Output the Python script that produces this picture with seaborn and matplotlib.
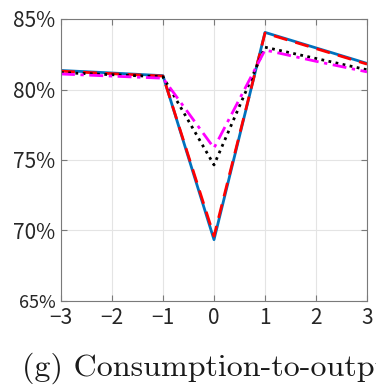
import numpy as np
import pandas as pd
import matplotlib
matplotlib.use("Agg")
import matplotlib.pyplot as plt
import seaborn as sns
from matplotlib.ticker import FuncFormatter

# Horizon (quarters around the shock)
horizon = [-3, -2, -1, 0, 1, 2, 3]

# Consumption-to-output ratio (%) under four specifications
series_a = [81.35, 81.17, 80.98, 69.35, 84.05, 82.95, 81.85]   # solid blue
series_b = [81.30, 81.12, 80.95, 69.60, 84.00, 82.90, 81.80]   # dashed red
series_c = [81.20, 81.05, 80.90, 74.65, 83.00, 82.20, 81.40]   # dotted black
series_d = [81.10, 80.95, 80.80, 75.85, 82.80, 82.00, 81.25]   # dash-dot magenta

names = ["a", "b", "c", "d"]
df = pd.concat([
    pd.DataFrame({"h": horizon, "v": vals, "s": n})
    for n, vals in zip(names, [series_a, series_b, series_c, series_d])
])

sns.set_style("white")
plt.rcParams["font.family"] = ["Noto Sans CJK JP", "DejaVu Sans"]

fig = plt.figure(figsize=(3.76, 3.87), dpi=100)
ax = fig.add_axes([61 / 376, 86 / 387, 306 / 376, 282 / 387])

palette = {"a": "#0072BD", "b": "#FF0000", "c": "#000000", "d": "#FF00FF"}
styles = {"a": "", "b": (5, 3), "c": (1, 1.6), "d": (5, 2, 1.2, 2)}
sns.lineplot(data=df, x="h", y="v", hue="s", style="s", palette=palette,
             dashes=styles, linewidth=2.0, legend=False, ax=ax, sort=False)

ax.set_xlim(-3, 3)
ax.set_ylim(65, 85)
ax.set_xticks(horizon)
ax.set_yticks([65, 70, 75, 80, 85])
ax.yaxis.set_major_formatter(FuncFormatter(lambda v, p: f"{v:.0f}%"))
ax.xaxis.set_major_formatter(FuncFormatter(lambda v, p: f"{v:.0f}".replace("-", "\u2212")))
ax.set_xlabel("")
ax.set_ylabel("")

ax.grid(True, color="#e4e4e4", linewidth=0.8)
ax.set_axisbelow(True)
for sp in ax.spines.values():
    sp.set_visible(True)
    sp.set_color("#7a7a7a")
    sp.set_linewidth(0.8)
ax.tick_params(direction="in", length=4, width=0.8, color="#7a7a7a",
               labelsize=15, labelcolor="#262626", top=True, right=True,
               bottom=True, left=True)
ax.tick_params(axis="x", pad=4)
ax.tick_params(axis="y", pad=4)
labs = ax.get_yticklabels()
labs[0].set_fontsize(13)

fig.text(22 / 376, 1 - 376 / 387, "(g) Consumption-to-output ratio",
         fontfamily="cmr10", fontsize=23, color="#1a1a1a", va="baseline")

fig.savefig("out.png", dpi=100)
